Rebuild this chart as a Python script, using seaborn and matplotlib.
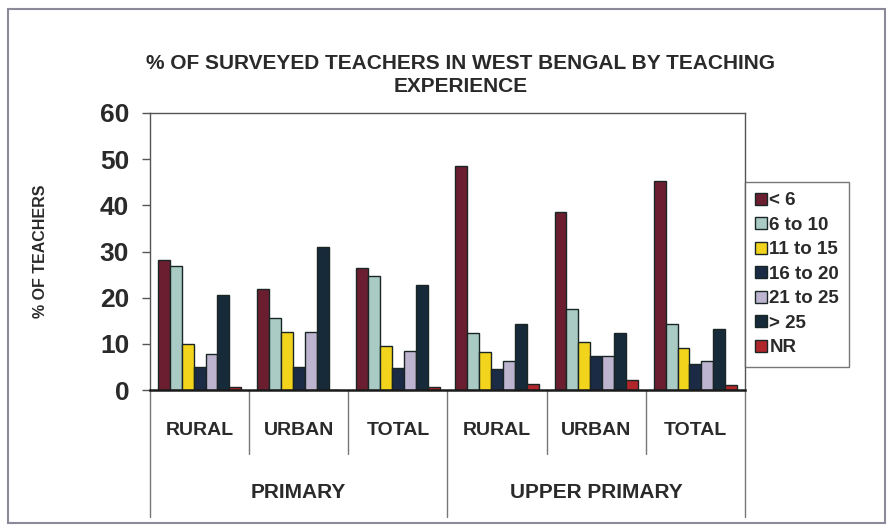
import pandas as pd
import matplotlib
matplotlib.use("Agg")
import matplotlib.pyplot as plt
import seaborn as sns
from matplotlib.patches import Rectangle

# -------------------------------
# Data
# -------------------------------
levels = ["PRIMARY", "UPPER PRIMARY"]
areas = ["RURAL", "URBAN", "TOTAL"]
experience = ["< 6", "6 to 10", "11 to 15", "16 to 20", "21 to 25", "> 25", "NR"]

# one list per experience band, in order: P-rural, P-urban, P-total, UP-rural, UP-urban, UP-total
lt_6 = [28.2, 21.9, 26.5, 48.5, 38.5, 45.3]
y6_10 = [26.9, 15.7, 24.8, 12.4, 17.5, 14.4]
y11_15 = [10.0, 12.6, 9.6, 8.3, 10.3, 9.2]
y16_20 = [4.9, 4.9, 4.7, 4.5, 7.4, 5.6]
y21_25 = [7.9, 12.6, 8.5, 6.3, 7.4, 6.3]
gt_25 = [20.6, 30.9, 22.7, 14.4, 12.3, 13.2]
nr = [0.7, 0.0, 0.7, 1.3, 2.2, 1.0]

colors = ["#6b1e2f", "#a9cbc3", "#f2d41c", "#1b2b45", "#bdb5cf", "#172a3a", "#b0262b"]

# -------------------------------
# Long-form table for seaborn
# -------------------------------
cats = [f"{lv}|{ar}" for lv in levels for ar in areas]
series = [lt_6, y6_10, y11_15, y16_20, y21_25, gt_25, nr]
rows = []
for exp, vals in zip(experience, series):
    for c, v in zip(cats, vals):
        rows.append({"cat": c, "exp": exp, "pct": v})
df = pd.DataFrame(rows)

# -------------------------------
# Plot
# -------------------------------
sns.set_style("white")
plt.rcParams["font.family"] = ["Liberation Sans", "DejaVu Sans"]

fig = plt.figure(figsize=(8.9, 5.28), dpi=100)
ax = fig.add_axes([150 / 890, 1 - 390 / 528, 595 / 890, 277 / 528])

sns.barplot(data=df, x="cat", y="pct", hue="exp", order=cats, hue_order=experience,
            palette=colors, width=0.84, edgecolor="#1a2626", linewidth=1.0,
            saturation=1, legend=True, ax=ax)

ax.set_ylim(0, 60)
ax.set_xlim(-0.5, 5.5)
ax.set_yticks(range(0, 61, 10))
ax.tick_params(axis="y", labelsize=19, length=6, width=1, color="#555555", pad=9,
               left=True, labelcolor="#2a2a2a")
for t in ax.get_yticklabels():
    t.set_fontweight("bold")
ax.set_xticks([])
ax.set_xlabel("")
ax.set_ylabel("% OF TEACHERS", fontsize=11.5, fontweight="bold", color="#2a2a2a")
ax.yaxis.set_label_coords(-0.172, 0.5)

for side in ["top", "right", "left"]:
    ax.spines[side].set_color("#555555")
    ax.spines[side].set_linewidth(1)
ax.spines["bottom"].set_color("#1a1a1a")
ax.spines["bottom"].set_linewidth(1.8)

# hierarchical category axis below the plot
trans = ax.get_xaxis_transform()
for i, c in enumerate(cats):
    ax.text(i, -0.145, c.split("|")[1], transform=trans, ha="center", va="center",
            fontsize=14, fontweight="bold", color="#2a2a2a")
for x in [0.5, 1.5, 3.5, 4.5]:
    ax.plot([x, x], [0, -0.23], transform=trans, color="#777777", lw=1, clip_on=False)
for x in [-0.5, 2.5, 5.5]:
    ax.plot([x, x], [0, -0.46], transform=trans, color="#777777", lw=1, clip_on=False)
for j, lv in enumerate(levels):
    ax.text(j * 3 + 1, -0.37, lv, transform=trans, ha="center", va="center",
            fontsize=15, fontweight="bold", color="#2a2a2a")

# title
fig.text(461 / 890, 1 - 75 / 528,
         "% OF SURVEYED TEACHERS IN WEST BENGAL BY TEACHING\nEXPERIENCE",
         ha="center", va="center", fontsize=15, fontweight="bold", color="#2a2a2a",
         linespacing=1.25)

# legend on the right
handles, labels = ax.get_legend_handles_labels()
ax.legend_.remove()
leg = fig.legend(handles, labels, loc="upper left", bbox_to_anchor=(745 / 890, 1 - 182 / 528),
                 fontsize=13.5, frameon=True, fancybox=False, handlelength=0.6,
                 handleheight=0.6, handletextpad=0.15, labelspacing=0.4,
                 borderpad=0.55, borderaxespad=0)
leg.get_frame().set_edgecolor("#555555")
leg.get_frame().set_linewidth(1)
for t in leg.get_texts():
    t.set_fontweight("bold")
    t.set_color("#2a2a2a")

# outer chart border
fig.patches.append(Rectangle((8 / 890, 1 - 523 / 528), 877 / 890, 514 / 528,
                             transform=fig.transFigure, fill=False,
                             edgecolor="#8a8a9a", lw=1.5))

fig.savefig("out.png", dpi=100)
